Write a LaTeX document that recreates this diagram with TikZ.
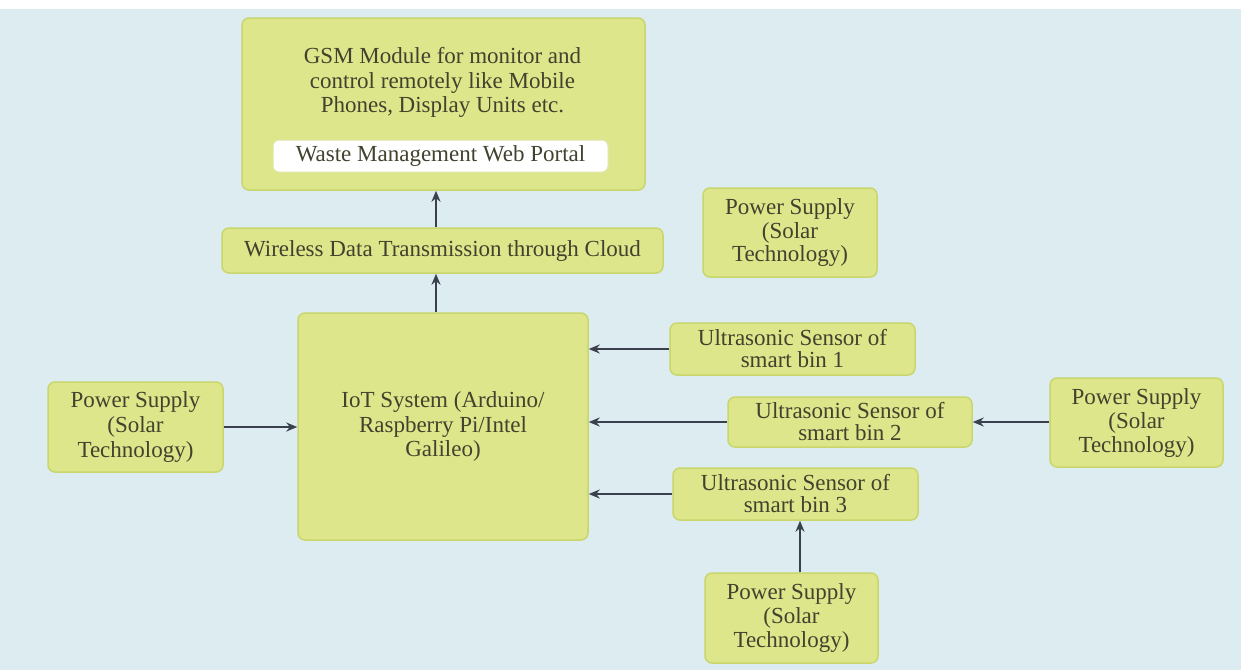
\documentclass[tikz,border=0pt]{standalone}
\usepackage{fontspec}
\setmainfont{Liberation Serif}
\usetikzlibrary{arrows.meta,calc}
\definecolor{bg}{RGB}{220,236,240}
\definecolor{boxfill}{RGB}{221,230,138}
\definecolor{boxline}{RGB}{200,214,108}
\definecolor{txt}{RGB}{66,66,46}
\definecolor{arrcol}{RGB}{58,64,78}
\tikzset{
  box/.style={draw=boxline, line width=1.5pt, fill=boxfill, rounded corners=7pt,
    inner sep=0pt, align=center, text=txt},
  whitebox/.style={draw=boxline!60, line width=1pt, fill=white, rounded corners=6pt,
    inner sep=0pt, align=center, text=txt},
  lbl/.style={inner sep=0pt, align=center, text=txt},
  arr/.style={draw=arrcol, line width=2pt, -{Stealth[length=11pt,width=9pt]}}
}
\begin{document}
\begin{tikzpicture}[x=1pt,y=-1pt]
\fill[bg] (0,0) rectangle (1241,670);
\fill[white] (0,0) rectangle (1241,9);
\useasboundingbox (0,0) rectangle (1241,670);
\fontsize{23}{25}\selectfont
% nodes
\node[box, minimum width=403pt, minimum height=172pt] (gsm) at (443.5,104) {};
\node[lbl, font=\fontsize{23}{24.5}\selectfont] (gsmtext) at (442.5,82.5)
  {GSM Module for monitor and\\control remotely like Mobile\\Phones, Display Units etc.};
\node[whitebox, minimum width=335pt, minimum height=32pt] (portal) at (440.5,156)
  {Waste Management Web Portal};
\node[box, minimum width=441pt, minimum height=45pt] (wireless) at (442.5,250.5)
  {Wireless Data Transmission through Cloud};
\node[box, minimum width=290pt, minimum height=227pt, font=\fontsize{23}{24.5}\selectfont] (iot) at (443,426.5)
  {IoT System (Arduino/\\Raspberry Pi/Intel\\Galileo)};
\node[box, minimum width=175pt, minimum height=90pt] (psl) at (135.5,427)
  {Power Supply\\(Solar\\Technology)};
\node[box, minimum width=174pt, minimum height=89pt, font=\fontsize{23}{23.5}\selectfont] (pst) at (790,232.5)
  {Power Supply\\(Solar\\Technology)};
\node[box, minimum width=245pt, minimum height=52pt, font=\fontsize{23}{22}\selectfont] (s1) at (792.5,349)
  {Ultrasonic Sensor of\\smart bin 1};
\node[box, minimum width=244pt, minimum height=50pt, font=\fontsize{23}{22}\selectfont] (s2) at (850,422)
  {Ultrasonic Sensor of\\smart bin 2};
\node[box, minimum width=245pt, minimum height=52pt, font=\fontsize{23}{22}\selectfont] (s3) at (795.5,494)
  {Ultrasonic Sensor of\\smart bin 3};
\node[box, minimum width=173pt, minimum height=89pt, font=\fontsize{23}{24}\selectfont] (psr) at (1136.5,422.5)
  {Power Supply\\(Solar\\Technology)};
\node[box, minimum width=173pt, minimum height=90pt, font=\fontsize{23}{24}\selectfont] (psb) at (791.5,618)
  {Power Supply\\(Solar\\Technology)};
% guide coordinates
\coordinate (vx) at (436,0);
\coordinate (bx) at (800,0);
% connectors
\draw[arr] (wireless.north -| vx) -- (gsm.south -| vx);
\draw[arr] (iot.north -| vx) -- (wireless.south -| vx);
\draw[arr] (psl.east) -- (iot.west |- psl.east);
\draw[arr] (s1.west) -- (iot.east |- s1.west);
\draw[arr] (s2.west) -- (iot.east |- s2.west);
\draw[arr] (s3.west) -- (iot.east |- s3.west);
\draw[arr] (psr.west |- s2.east) -- (s2.east);
\draw[arr] (psb.north -| bx) -- (s3.south -| bx);
\end{tikzpicture}
\end{document}
